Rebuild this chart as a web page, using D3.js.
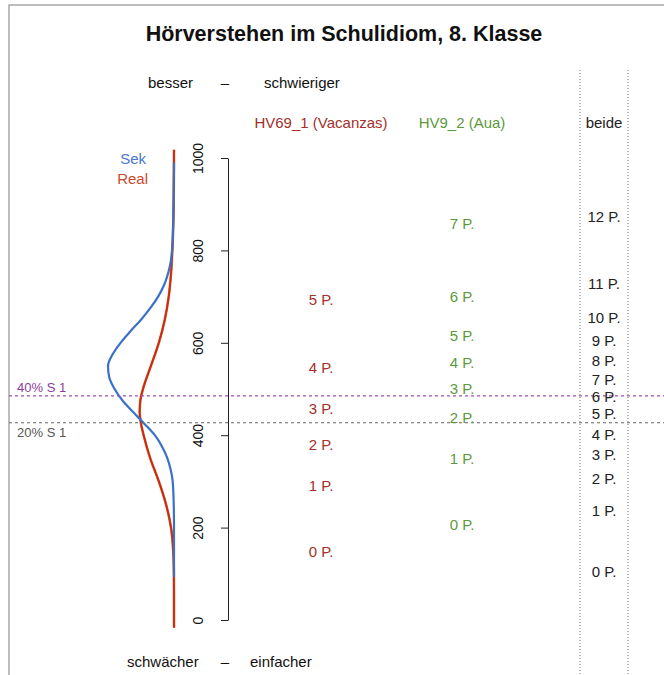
<!DOCTYPE html>
<html><head><meta charset="utf-8">
<script src="https://cdn.jsdelivr.net/npm/d3@7"></script>
<style>body{margin:0;background:#fff;} text{font-family:"Liberation Sans",Arial,Helvetica,sans-serif;}</style>
</head><body>
<svg id="c" width="664" height="675"></svg>
<script>
// ---- data ----
const title = "Hörverstehen im Schulidiom, 8. Klasse";
const axisTicks = [0, 200, 400, 600, 800, 1000];
// density curves: [score, relative density]
const sekDensity = [[990,0],[950,0.002],[900,0.006],[850,0.014],[800,0.03],[775,0.05],[750,0.09],[725,0.15],[700,0.24],[675,0.36],[650,0.5],[625,0.66],[600,0.81],[575,0.93],[550,1.0],[525,0.98],[500,0.9],[475,0.78],[450,0.62],[425,0.45],[400,0.29],[375,0.18],[350,0.1],[325,0.05],[300,0.02],[250,0.004],[200,0],[93,0]];
const realDensity = [[1018,0],[900,0.005],[850,0.012],[800,0.025],[750,0.045],[700,0.08],[650,0.14],[600,0.23],[550,0.35],[500,0.47],[475,0.51],[450,0.52],[425,0.5],[400,0.46],[350,0.36],[300,0.23],[250,0.12],[200,0.045],[150,0.012],[100,0.002],[50,0],[-17,0]];
const thresholdLabels = ["40% S 1", "20% S 1"];
const thresholdValues = [485, 427];
const itemNames = ["HV69_1 (Vacanzas)", "HV9_2 (Aua)", "beide"];
const item1Labels = ["0 P.","1 P.","2 P.","3 P.","4 P.","5 P."];
const item1Values = [147, 290, 379, 457, 546, 693];
const item2Labels = ["0 P.","1 P.","2 P.","3 P.","4 P.","5 P.","6 P.","7 P."];
const item2Values = [206, 349, 438, 500, 557, 615, 700, 858];
const bothLabels = ["0 P.","1 P.","2 P.","3 P.","4 P.","5 P.","6 P.","7 P.","8 P.","9 P.","10 P.","11 P.","12 P."];
const bothValues = [104, 236, 306, 357, 401, 446, 483, 520, 561, 605, 654, 728, 873];

// ---- drawing ----
const svg = d3.select("#c");
const y = d3.scaleLinear().domain([0, 1000]).range([620, 158]);
const dx = d3.scaleLinear().domain([0, 1]).range([174, 108]);

// frame
svg.append("path").attr("d","M9,675V5H664").attr("fill","none").attr("stroke","#a8a8a8").attr("stroke-width",1.5);

svg.append("text").attr("x",344).attr("y",41).attr("text-anchor","middle")
  .attr("font-size",21.5).attr("font-weight","bold").attr("fill","#111").text(title);

const hdr = (t, x, yy, anchor) => svg.append("text").attr("x",x).attr("y",yy).attr("text-anchor",anchor)
  .attr("font-size",15).attr("fill","#111").text(t);
hdr("besser",148,88,"start"); hdr("–",225,88,"middle"); hdr("schwieriger",264,88,"start");
hdr("schwächer",127,667,"start"); hdr("–",225,667,"middle"); hdr("einfacher",250,667,"start");

// dotted column lines
[580, 628].forEach(x => svg.append("line").attr("x1",x).attr("x2",x).attr("y1",70).attr("y2",675)
  .attr("stroke","#777").attr("stroke-width",1).attr("stroke-dasharray","1,2"));

// axis
const ax = svg.append("g").attr("transform","translate(228,0)")
  .call(d3.axisLeft(y).tickValues(axisTicks).tickSize(7).tickSizeOuter(0).tickFormat(d3.format("d")));
ax.select(".domain").attr("stroke","#222");
ax.selectAll(".tick line").attr("stroke","#222");
ax.selectAll(".tick text").attr("transform","rotate(-90)").attr("x",0).attr("y",-30).attr("dy","0.35em")
  .attr("text-anchor","middle").attr("font-size",14).attr("fill","#111")
  .style("font-family","'Liberation Sans',Arial,sans-serif");

// density curves
const line = d3.line().x(d => dx(d[1])).y(d => y(d[0])).curve(d3.curveMonotoneY);
svg.append("path").datum(realDensity).attr("d",line).attr("fill","none").attr("stroke","#e0782a").attr("stroke-width",2.6);
svg.append("path").datum(realDensity).attr("d",line).attr("fill","none").attr("stroke","#c42a1e").attr("stroke-width",1.8);
svg.append("path").datum(sekDensity).attr("d",line).attr("fill","none").attr("stroke","#3a70c8").attr("stroke-width",2.2);

svg.append("text").attr("x",146).attr("y",164).attr("text-anchor","end").attr("font-size",15).attr("fill","#4a78cc").text("Sek");
svg.append("text").attr("x",148).attr("y",184).attr("text-anchor","end").attr("font-size",15).attr("fill","#cc4a2a").text("Real");

// thresholds
const thrColors = ["#a050b8", "#666666"];
const thrText = ["#8a3c9c", "#555555"];
thresholdValues.forEach((v,i) => {
  svg.append("line").attr("x1",9).attr("x2",664).attr("y1",y(v)).attr("y2",y(v))
    .attr("stroke",thrColors[i]).attr("stroke-width",1.2).attr("stroke-dasharray","3,3");
});
svg.append("text").attr("x",17).attr("y",y(thresholdValues[0])-4).attr("font-size",13).attr("fill",thrText[0]).text(thresholdLabels[0]);
svg.append("text").attr("x",17).attr("y",y(thresholdValues[1])+14).attr("font-size",13).attr("fill",thrText[1]).text(thresholdLabels[1]);

// item columns
const colX = [321, 462, 604];
const colColor = ["#a3302a", "#5c9a3c", "#222"];
itemNames.forEach((n,i) => svg.append("text").attr("x",colX[i]).attr("y",128).attr("text-anchor","middle")
  .attr("font-size",15).attr("fill",colColor[i]).text(n));
const drawCol = (labels, values, i) => labels.forEach((l,k) => svg.append("text")
  .attr("x",colX[i]).attr("y",y(values[k])).attr("dy","0.35em").attr("text-anchor","middle")
  .attr("font-size",15).attr("fill",colColor[i]).text(l));
drawCol(item1Labels, item1Values, 0);
drawCol(item2Labels, item2Values, 1);
drawCol(bothLabels, bothValues, 2);
</script>
</body></html>
